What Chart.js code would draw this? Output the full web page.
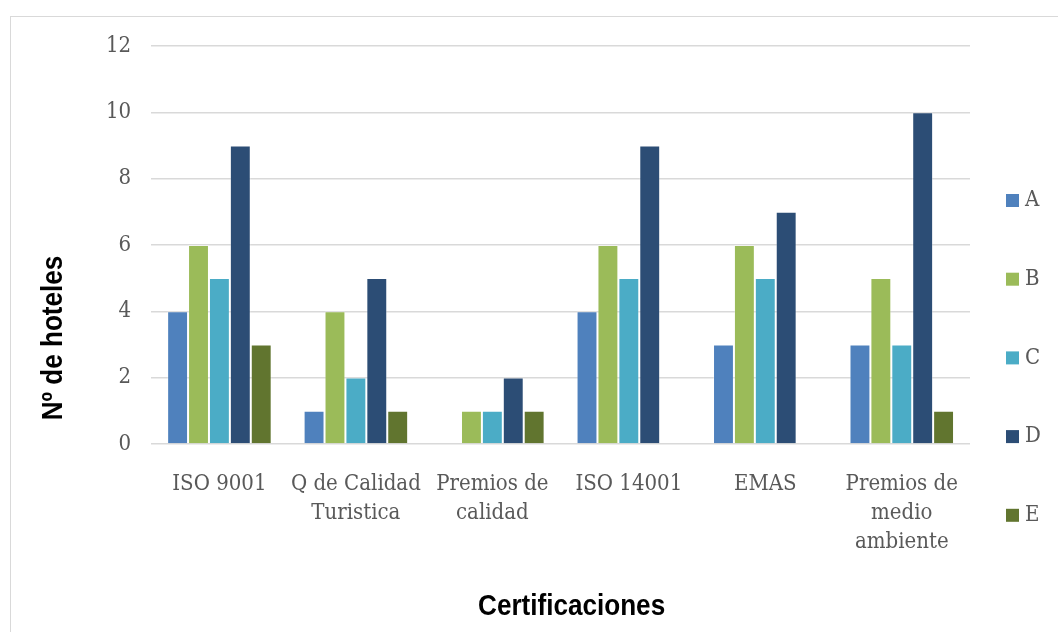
<!DOCTYPE html>
<html>
<head>
<meta charset="utf-8">
<script src="https://cdn.jsdelivr.net/npm/chart.js@4.4.1/dist/chart.umd.min.js"></script>
<style>
  html, body { margin: 0; padding: 0; background: #fff; }
  #wrap { position: relative; width: 1058px; height: 632px; overflow: hidden; }
  #frame { position: absolute; left: 10px; top: 16px; width: 1100px; height: 700px;
           border: 1px solid #d9d9d9; box-sizing: border-box; }
  canvas { position: absolute; left: 0; top: 0; }
</style>
</head>
<body>
<div id="wrap">
  <div id="frame"></div>
  <canvas id="c" width="1058" height="632"></canvas>
</div>
<script>
// Certification types (x axis)
const categories = [
  'ISO 9001',
  ['Q de Calidad', 'Turistica'],
  ['Premios de', 'calidad'],
  'ISO 14001',
  'EMAS',
  ['Premios de', 'medio', 'ambiente']
];

// Number of hotels per group
const seriesA = [4, 1, 0, 4, 3, 3];
const seriesB = [6, 4, 1, 6, 6, 5];
const seriesC = [5, 2, 1, 5, 5, 3];
const seriesD = [9, 5, 2, 9, 7, 10];
const seriesE = [3, 1, 1, 0, 0, 1];

const seriesNames = ['A', 'B', 'C', 'D', 'E'];
const seriesValues = [seriesA, seriesB, seriesC, seriesD, seriesE];
const seriesColors = ['#4F81BD', '#9BBB59', '#4BACC6', '#2C4D75', '#61752F'];

const yTicks = [0, 2, 4, 6, 8, 10, 12];

const xTitle = 'Certificaciones';
const yTitle = 'Nº de hoteles';

const serifFamily = '"DejaVu Serif Condensed", "DejaVu Serif", serif';
const titleFamily = '"Liberation Sans", Arial, sans-serif';
const textGrey = '#595959';

// Axis titles, drawn slightly condensed
const axisTitles = {
  id: 'axisTitles',
  afterDraw(chart) {
    const { ctx, chartArea } = chart;
    ctx.save();
    ctx.fillStyle = '#000';
    ctx.font = 'bold 29px ' + titleFamily;
    ctx.textAlign = 'center';
    ctx.textBaseline = 'middle';
    ctx.save();
    ctx.translate((chartArea.left + chartArea.right) / 2 + 11, chartArea.bottom + 163);
    ctx.scale(0.9, 1);
    ctx.fillText(xTitle, 0, 0);
    ctx.restore();
    ctx.translate(chartArea.left - 97, chartArea.top + 292);
    ctx.rotate(-Math.PI / 2);
    ctx.scale(0.9, 1);
    ctx.fillText(yTitle, 0, 0);
    ctx.restore();
  }
};

// Vertical legend on the right, spaced out like the series key
const sideLegend = {
  id: 'sideLegend',
  afterDraw(chart) {
    const { ctx, chartArea } = chart;
    const x = chartArea.right + 36;
    const y0 = chartArea.top + 154.5;
    const step = 78.7;
    ctx.save();
    ctx.font = '22px ' + serifFamily;
    ctx.textBaseline = 'middle';
    ctx.textAlign = 'left';
    chart.data.datasets.forEach((ds, i) => {
      const y = y0 + i * step;
      ctx.fillStyle = ds.backgroundColor;
      ctx.fillRect(x, y - 6.5, 13, 13);
      ctx.fillStyle = textGrey;
      ctx.fillText(ds.label, x + 19, y);
    });
    ctx.restore();
  }
};

new Chart(document.getElementById('c'), {
  type: 'bar',
  data: {
    labels: categories,
    datasets: seriesNames.map((name, i) => ({
      label: name,
      data: seriesValues[i],
      backgroundColor: seriesColors[i],
      borderColor: 'rgba(255,255,255,0.3)',
      borderWidth: 1,
      categoryPercentage: 0.766,
      barPercentage: 1
    }))
  },
  options: {
    responsive: false,
    animation: false,
    layout: { padding: { top: 46, left: 86, right: 88, bottom: 57 } },
    plugins: {
      tooltip: { enabled: false },
      legend: { display: false }
    },
    scales: {
      x: {
        grid: { display: false },
        border: { display: false },
        ticks: {
          color: textGrey,
          font: { family: serifFamily, size: 22, lineHeight: 1.32 },
          padding: 18,
          maxRotation: 0,
          autoSkip: false
        }
      },
      y: {
        min: 0,
        max: 12,
        afterBuildTicks(scale) { scale.ticks = yTicks.map(v => ({ value: v })); },
        grid: { color: '#d9d9d9', lineWidth: 1.5, drawTicks: false },
        border: { display: false },
        ticks: {
          color: textGrey,
          font: { family: serifFamily, size: 22 },
          padding: 20
        }
      }
    }
  },
  plugins: [axisTitles, sideLegend]
});
</script>
</body>
</html>
